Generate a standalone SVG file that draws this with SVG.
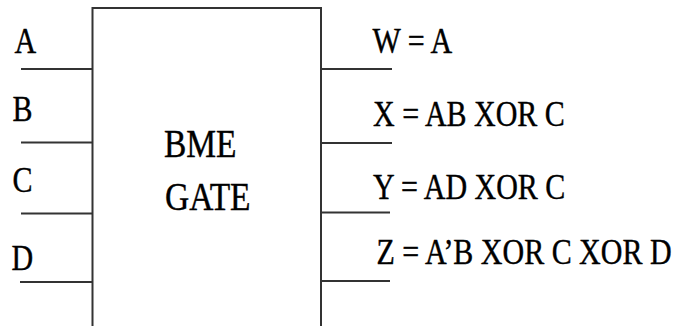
<svg xmlns="http://www.w3.org/2000/svg" width="680" height="327" viewBox="0 0 680 327">
  <style>
    .lbl { font-family: 'Liberation Serif', 'Times New Roman', Times, 'DejaVu Serif', serif; font-size: 30px; fill: #000; stroke: #000; stroke-width: 0.35; }
    .title { font-family: 'Liberation Serif', 'Times New Roman', Times, 'DejaVu Serif', serif; font-size: 33.5px; fill: #000; stroke: #000; stroke-width: 0.35; }
    .wire { stroke: #333; stroke-width: 2; fill: none; }
    .body { stroke: #333; stroke-width: 2; fill: #fff; }
  </style>
  <rect width="680" height="327" fill="#fff"/>

  <!-- gate body (open at the bottom edge) -->
  <g id="gate">
    <path class="body" d="M92.5,326 V8 H321 V326"/>
    <text class="title" transform="translate(164,156.5) scale(1,1.17)">BME</text>
    <text class="title" transform="translate(165,209.5) scale(1,1.17)">GATE</text>
  </g>

  <!-- input and output pins -->
  <g id="connectors">
    <line class="wire" x1="21" y1="69" x2="92.5" y2="69"/>
    <line class="wire" x1="21" y1="142.5" x2="92.5" y2="142.5"/>
    <line class="wire" x1="21" y1="213.5" x2="92.5" y2="213.5"/>
    <line class="wire" x1="20" y1="282" x2="92.5" y2="282"/>
    <line class="wire" x1="321" y1="69" x2="392" y2="69"/>
    <line class="wire" x1="321" y1="143" x2="392" y2="143"/>
    <line class="wire" x1="321" y1="212.5" x2="390" y2="212.5"/>
    <line class="wire" x1="321" y1="281" x2="390" y2="281"/>
  </g>

  <g id="in-a"><text class="lbl" transform="translate(14.5,52.7) scale(1,1.17)">A</text></g>
  <g id="in-b"><text class="lbl" transform="translate(12.5,120.5) scale(1,1.17)">B</text></g>
  <g id="in-c"><text class="lbl" transform="translate(12.5,191.7) scale(1,1.17)">C</text></g>
  <g id="in-d"><text class="lbl" transform="translate(11.5,270) scale(1,1.17)">D</text></g>

  <g id="out-w"><text class="lbl" transform="translate(372.5,52.7) scale(1,1.17)">W = A</text></g>
  <g id="out-x"><text class="lbl" transform="translate(373,126) scale(1,1.17)">X = AB XOR C</text></g>
  <g id="out-y"><text class="lbl" transform="translate(373,199.3) scale(1,1.17)">Y = AD XOR C</text></g>
  <g id="out-z"><text class="lbl" transform="translate(376.5,264.3) scale(1,1.17)">Z = A’B XOR C XOR D</text></g>
</svg>
